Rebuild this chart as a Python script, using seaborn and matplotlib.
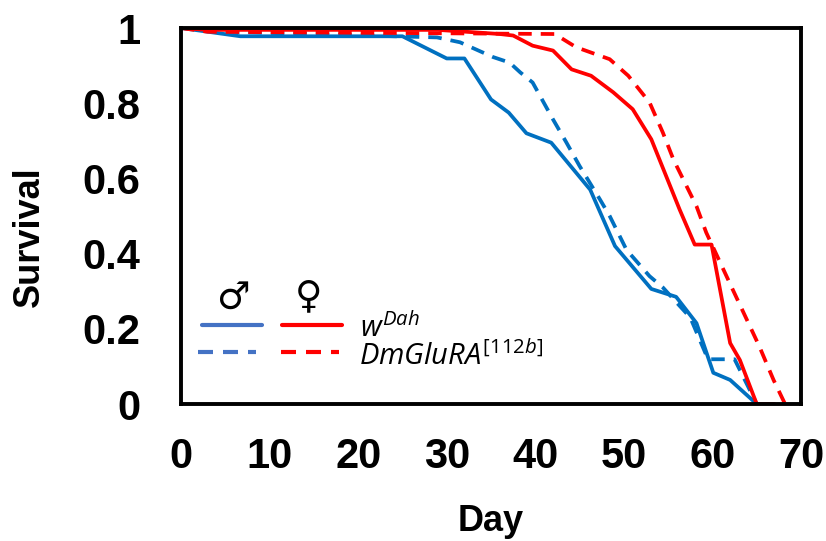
import matplotlib
matplotlib.use("Agg")
import matplotlib.pyplot as plt
import pandas as pd
import seaborn as sns

# survival curves (day, fraction alive)
male_wdah_day = [0, 6.7, 25, 30, 32, 35, 37, 39, 41.8, 46.2, 49, 53.1, 55.9, 58.2, 60.1, 62, 65]
male_wdah_surv = [1, 0.978, 0.978, 0.919, 0.919, 0.81, 0.775, 0.72, 0.695, 0.57, 0.42, 0.306, 0.285, 0.215, 0.083, 0.064, 0]

male_mut_day = [0, 5, 28.9, 31.5, 35.2, 37.1, 38.3, 39.7, 42, 43.5, 45, 47.3, 48.4, 50.3, 52.9, 54.4, 57.5, 59.5, 62.5, 65]
male_mut_surv = [1, 0.99, 0.975, 0.962, 0.923, 0.908, 0.882, 0.855, 0.757, 0.696, 0.633, 0.544, 0.5, 0.41, 0.34, 0.31, 0.23, 0.119, 0.119, 0]

female_wdah_day = [0, 3, 29, 36, 37.5, 39.7, 42, 44.1, 46.3, 48.8, 51, 53.1, 56.3, 58, 59.9, 62, 63.1, 65, 67]
female_wdah_surv = [1, 0.995, 0.995, 0.984, 0.98, 0.953, 0.94, 0.89, 0.873, 0.829, 0.784, 0.704, 0.517, 0.424, 0.424, 0.162, 0.117, 0, 0]

female_mut_day = [0, 3, 42.2, 44.6, 48.4, 50.5, 52.9, 54.4, 55.6, 58.2, 59.3, 62.3, 65.3, 66.9, 68.2]
female_mut_surv = [1, 0.99, 0.984, 0.949, 0.917, 0.873, 0.802, 0.722, 0.65, 0.526, 0.456, 0.304, 0.153, 0.064, 0]

x_ticks = [0, 10, 20, 30, 40, 50, 60, 70]
y_ticks = [0, 0.2, 0.4, 0.6, 0.8, 1]
y_labels = ["0", "0.2", "0.4", "0.6", "0.8", "1"]

BLUE = "#0070C0"
RED = "#FF0000"
LEG_BLUE = "#4472C4"

sns.set_style("white", rc={"text.color": "black", "axes.labelcolor": "black",
                           "xtick.color": "black", "ytick.color": "black"})
plt.rcParams["font.family"] = ["Liberation Sans", "DejaVu Sans"]
plt.rcParams["mathtext.fontset"] = "custom"
plt.rcParams["mathtext.it"] = "Open Sans:italic"
plt.rcParams["mathtext.rm"] = "Open Sans"

fig = plt.figure(figsize=(8.26, 5.41), dpi=100)
ax = fig.add_axes([181 / 826, 1 - 404 / 541, 620 / 826, 376 / 541])

dash = (3.6, 2.4)
sns.lineplot(x=male_wdah_day, y=male_wdah_surv, color=BLUE, lw=2.7, ax=ax, sort=False)
sns.lineplot(x=male_mut_day, y=male_mut_surv, color=BLUE, lw=2.7, ax=ax, sort=False).lines[-1].set_dashes(dash)
sns.lineplot(x=female_wdah_day, y=female_wdah_surv, color=RED, lw=2.7, ax=ax, sort=False)
sns.lineplot(x=female_mut_day, y=female_mut_surv, color=RED, lw=2.7, ax=ax, sort=False).lines[-1].set_dashes(dash)

ax.set_xlim(0, 70)
ax.set_ylim(0, 1)
ax.set_xticks(x_ticks)
ax.set_yticks(y_ticks)
ax.set_yticklabels(y_labels)
ax.tick_params(axis="both", direction="out", length=10, width=2.8, labelsize=30)
ax.tick_params(axis="x", pad=14)
ax.tick_params(axis="y", pad=19)
for lab in ax.get_xticklabels() + ax.get_yticklabels():
    lab.set_fontweight("bold")
for sp in ax.spines.values():
    sp.set_linewidth(2.8)
    sp.set_color("black")
ax.set_xlabel("Day", fontsize=26, fontweight="bold")
ax.set_ylabel("Survival", fontsize=26, fontweight="bold")
ax.xaxis.set_label_coords(0.5, -0.265)
ax.yaxis.set_label_coords(-0.216, 0.444)

# hand-made legend in figure pixel coords
def px(x, y):
    return x / 826, 1 - y / 541

for (x0, x1), y, c, ls in [((202, 262), 325, LEG_BLUE, "-"), ((282, 342), 325, RED, "-"),
                            ((198, 256), 352, LEG_BLUE, (0, dash)), ((281, 339), 352, RED, (0, dash))]:
    a, b = px(x0, y)
    cc, _ = px(x1, y)
    fig.add_artist(plt.Line2D([a, cc], [b, b], color=c, lw=3, linestyle=ls, transform=fig.transFigure))

fig.text(*px(233, 299), "\u2642", fontsize=27, ha="center", va="center", family="DejaVu Sans")
fig.text(*px(309, 297), "\u2640", fontsize=27, ha="center", va="center", family="DejaVu Sans")
fig.text(*px(360, 328), r"$w^{Dah}$", fontsize=21, ha="left", va="center")
fig.text(*px(359, 356), r"$\mathit{DmGluRA}^{\mathit{[112b]}}$", fontsize=21, ha="left", va="center")

fig.savefig("out.png", dpi=100)
